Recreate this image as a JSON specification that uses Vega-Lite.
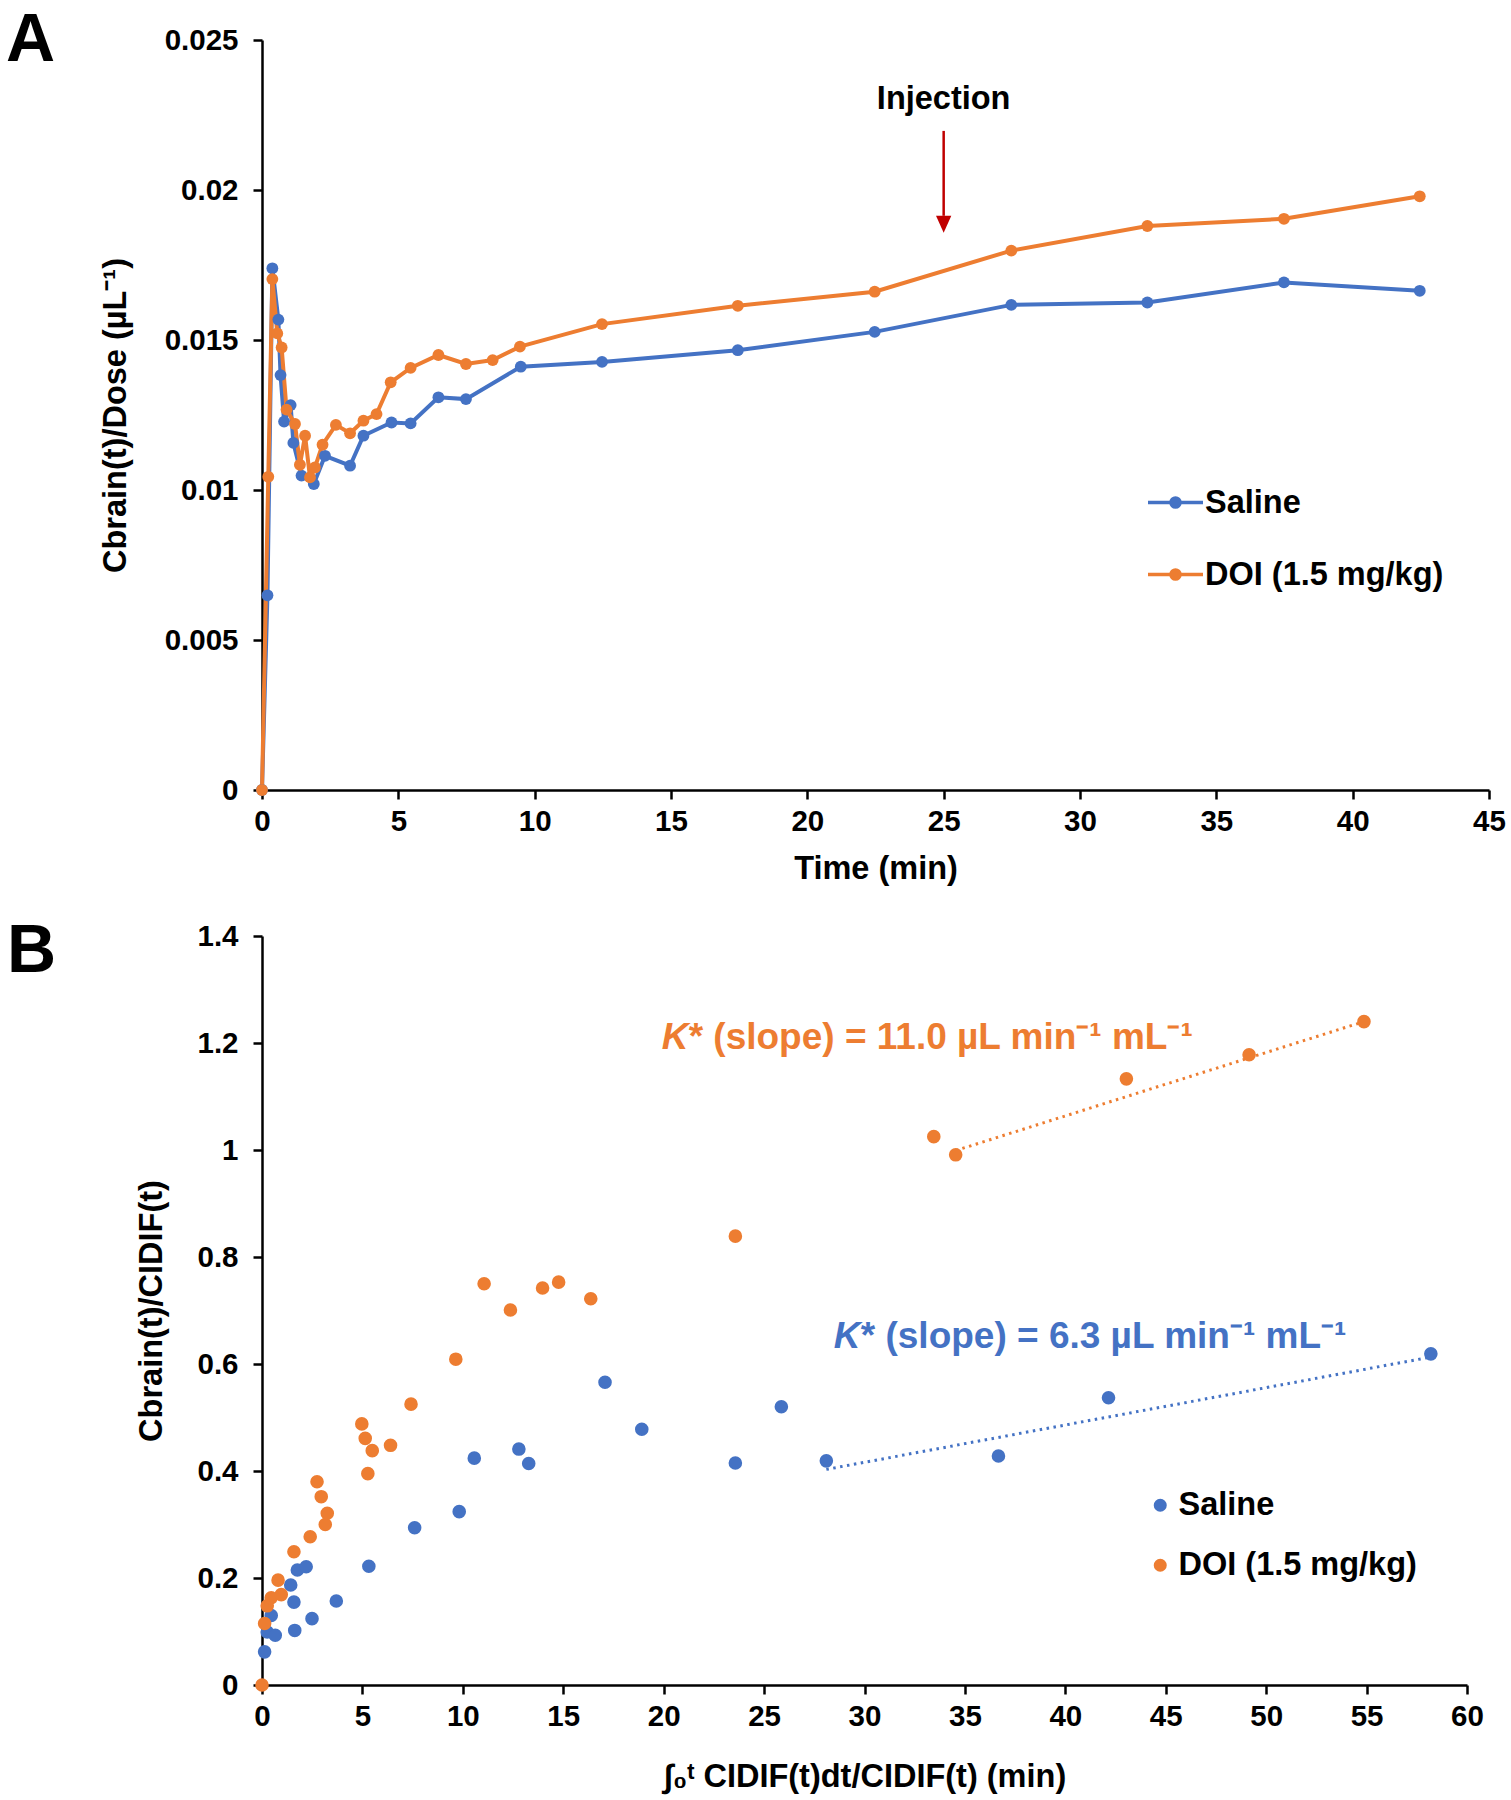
{
  "$schema": "https://vega.github.io/schema/vega-lite/v6.json",
  "padding": {"left": 5, "top": 6, "right": 5, "bottom": 5},
  "background": "white",
  "config": {
    "font": "Liberation Sans",
    "view": {"stroke": null},
    "axis": {
      "grid": false,
      "domainColor": "black",
      "domainWidth": 2.5,
      "tickColor": "black",
      "tickWidth": 2.5,
      "tickSize": 9,
      "labelFont": "Liberation Sans",
      "labelFontSize": 29.5,
      "labelFontWeight": "bold",
      "labelColor": "black",
      "labelFlush": false,
      "titleFont": "Liberation Sans",
      "titleFontSize": 32.5,
      "titleFontWeight": "bold",
      "titleColor": "black"
    },
    "axisX": {"labelPadding": 8},
    "axisY": {"labelPadding": 15},
    "legend": {
      "labelFont": "Liberation Sans",
      "labelFontSize": 32.5,
      "labelFontWeight": "bold",
      "labelColor": "black",
      "labelLimit": 0,
      "title": null,
      "padding": 0
    }
  },
  "datasets": {
    "curveA": [
      {"t": 0, "v": 0, "g": "Saline"},
      {"t": 0.2, "v": 0.00649, "g": "Saline"},
      {"t": 0.38, "v": 0.01739, "g": "Saline"},
      {"t": 0.6, "v": 0.01568, "g": "Saline"},
      {"t": 0.68, "v": 0.01383, "g": "Saline"},
      {"t": 0.81, "v": 0.01228, "g": "Saline"},
      {"t": 1.05, "v": 0.01283, "g": "Saline"},
      {"t": 1.15, "v": 0.01157, "g": "Saline"},
      {"t": 1.45, "v": 0.01048, "g": "Saline"},
      {"t": 1.9, "v": 0.0102, "g": "Saline"},
      {"t": 2.31, "v": 0.01114, "g": "Saline"},
      {"t": 3.23, "v": 0.01081, "g": "Saline"},
      {"t": 3.72, "v": 0.01181, "g": "Saline"},
      {"t": 4.75, "v": 0.01225, "g": "Saline"},
      {"t": 5.45, "v": 0.01222, "g": "Saline"},
      {"t": 6.47, "v": 0.01309, "g": "Saline"},
      {"t": 7.48, "v": 0.01303, "g": "Saline"},
      {"t": 9.49, "v": 0.01411, "g": "Saline"},
      {"t": 12.47, "v": 0.01427, "g": "Saline"},
      {"t": 17.45, "v": 0.01466, "g": "Saline"},
      {"t": 22.47, "v": 0.01527, "g": "Saline"},
      {"t": 27.48, "v": 0.01617, "g": "Saline"},
      {"t": 32.47, "v": 0.01625, "g": "Saline"},
      {"t": 37.48, "v": 0.01692, "g": "Saline"},
      {"t": 42.46, "v": 0.01664, "g": "Saline"},
      {"t": 0, "v": 0, "g": "DOI (1.5 mg/kg)"},
      {"t": 0.23, "v": 0.01044, "g": "DOI (1.5 mg/kg)"},
      {"t": 0.38, "v": 0.01703, "g": "DOI (1.5 mg/kg)"},
      {"t": 0.56, "v": 0.01522, "g": "DOI (1.5 mg/kg)"},
      {"t": 0.72, "v": 0.01475, "g": "DOI (1.5 mg/kg)"},
      {"t": 0.9, "v": 0.01268, "g": "DOI (1.5 mg/kg)"},
      {"t": 1.21, "v": 0.0122, "g": "DOI (1.5 mg/kg)"},
      {"t": 1.39, "v": 0.01084, "g": "DOI (1.5 mg/kg)"},
      {"t": 1.58, "v": 0.01181, "g": "DOI (1.5 mg/kg)"},
      {"t": 1.76, "v": 0.01042, "g": "DOI (1.5 mg/kg)"},
      {"t": 1.94, "v": 0.01075, "g": "DOI (1.5 mg/kg)"},
      {"t": 2.22, "v": 0.01151, "g": "DOI (1.5 mg/kg)"},
      {"t": 2.71, "v": 0.01217, "g": "DOI (1.5 mg/kg)"},
      {"t": 3.23, "v": 0.01189, "g": "DOI (1.5 mg/kg)"},
      {"t": 3.72, "v": 0.01231, "g": "DOI (1.5 mg/kg)"},
      {"t": 4.2, "v": 0.01253, "g": "DOI (1.5 mg/kg)"},
      {"t": 4.72, "v": 0.01359, "g": "DOI (1.5 mg/kg)"},
      {"t": 5.45, "v": 0.01407, "g": "DOI (1.5 mg/kg)"},
      {"t": 6.47, "v": 0.0145, "g": "DOI (1.5 mg/kg)"},
      {"t": 7.48, "v": 0.0142, "g": "DOI (1.5 mg/kg)"},
      {"t": 8.46, "v": 0.01433, "g": "DOI (1.5 mg/kg)"},
      {"t": 9.46, "v": 0.01478, "g": "DOI (1.5 mg/kg)"},
      {"t": 12.47, "v": 0.01553, "g": "DOI (1.5 mg/kg)"},
      {"t": 17.45, "v": 0.01614, "g": "DOI (1.5 mg/kg)"},
      {"t": 22.47, "v": 0.01661, "g": "DOI (1.5 mg/kg)"},
      {"t": 27.48, "v": 0.01798, "g": "DOI (1.5 mg/kg)"},
      {"t": 32.47, "v": 0.0188, "g": "DOI (1.5 mg/kg)"},
      {"t": 37.48, "v": 0.01904, "g": "DOI (1.5 mg/kg)"},
      {"t": 42.46, "v": 0.01979, "g": "DOI (1.5 mg/kg)"}
    ],
    "scatterB": [
      {"x": 0.13, "y": 0.062, "g": "Saline"},
      {"x": 0.26, "y": 0.099, "g": "Saline"},
      {"x": 0.66, "y": 0.093, "g": "Saline"},
      {"x": 0.46, "y": 0.13, "g": "Saline"},
      {"x": 1.63, "y": 0.102, "g": "Saline"},
      {"x": 1.59, "y": 0.155, "g": "Saline"},
      {"x": 1.43, "y": 0.187, "g": "Saline"},
      {"x": 1.76, "y": 0.215, "g": "Saline"},
      {"x": 2.2, "y": 0.221, "g": "Saline"},
      {"x": 2.49, "y": 0.124, "g": "Saline"},
      {"x": 3.7, "y": 0.157, "g": "Saline"},
      {"x": 5.32, "y": 0.222, "g": "Saline"},
      {"x": 7.6, "y": 0.294, "g": "Saline"},
      {"x": 9.82, "y": 0.324, "g": "Saline"},
      {"x": 10.57, "y": 0.424, "g": "Saline"},
      {"x": 12.79, "y": 0.441, "g": "Saline"},
      {"x": 13.28, "y": 0.414, "g": "Saline"},
      {"x": 17.08, "y": 0.566, "g": "Saline"},
      {"x": 18.91, "y": 0.478, "g": "Saline"},
      {"x": 23.57, "y": 0.415, "g": "Saline"},
      {"x": 25.86, "y": 0.52, "g": "Saline"},
      {"x": 28.1, "y": 0.419, "g": "Saline"},
      {"x": 36.67, "y": 0.428, "g": "Saline"},
      {"x": 42.15, "y": 0.537, "g": "Saline"},
      {"x": 58.2, "y": 0.619, "g": "Saline"},
      {"x": 0, "y": 0, "g": "DOI (1.5 mg/kg)"},
      {"x": 0.13, "y": 0.115, "g": "DOI (1.5 mg/kg)"},
      {"x": 0.26, "y": 0.148, "g": "DOI (1.5 mg/kg)"},
      {"x": 0.46, "y": 0.163, "g": "DOI (1.5 mg/kg)"},
      {"x": 0.96, "y": 0.169, "g": "DOI (1.5 mg/kg)"},
      {"x": 0.8, "y": 0.196, "g": "DOI (1.5 mg/kg)"},
      {"x": 1.59, "y": 0.249, "g": "DOI (1.5 mg/kg)"},
      {"x": 2.4, "y": 0.277, "g": "DOI (1.5 mg/kg)"},
      {"x": 3.15, "y": 0.3, "g": "DOI (1.5 mg/kg)"},
      {"x": 3.25, "y": 0.321, "g": "DOI (1.5 mg/kg)"},
      {"x": 2.95, "y": 0.352, "g": "DOI (1.5 mg/kg)"},
      {"x": 2.74, "y": 0.38, "g": "DOI (1.5 mg/kg)"},
      {"x": 5.27, "y": 0.395, "g": "DOI (1.5 mg/kg)"},
      {"x": 5.49, "y": 0.438, "g": "DOI (1.5 mg/kg)"},
      {"x": 5.14, "y": 0.461, "g": "DOI (1.5 mg/kg)"},
      {"x": 4.97, "y": 0.488, "g": "DOI (1.5 mg/kg)"},
      {"x": 6.4, "y": 0.448, "g": "DOI (1.5 mg/kg)"},
      {"x": 7.42, "y": 0.525, "g": "DOI (1.5 mg/kg)"},
      {"x": 9.65, "y": 0.609, "g": "DOI (1.5 mg/kg)"},
      {"x": 11.06, "y": 0.75, "g": "DOI (1.5 mg/kg)"},
      {"x": 12.37, "y": 0.701, "g": "DOI (1.5 mg/kg)"},
      {"x": 13.97, "y": 0.742, "g": "DOI (1.5 mg/kg)"},
      {"x": 14.77, "y": 0.753, "g": "DOI (1.5 mg/kg)"},
      {"x": 16.37, "y": 0.722, "g": "DOI (1.5 mg/kg)"},
      {"x": 23.57, "y": 0.839, "g": "DOI (1.5 mg/kg)"},
      {"x": 33.45, "y": 1.025, "g": "DOI (1.5 mg/kg)"},
      {"x": 34.54, "y": 0.991, "g": "DOI (1.5 mg/kg)"},
      {"x": 43.04, "y": 1.133, "g": "DOI (1.5 mg/kg)"},
      {"x": 49.15, "y": 1.178, "g": "DOI (1.5 mg/kg)"},
      {"x": 54.87, "y": 1.24, "g": "DOI (1.5 mg/kg)"}
    ],
    "fitBlue": [{"x": 28.1, "y": 0.403}, {"x": 58.2, "y": 0.613}],
    "fitOrange": [{"x": 34.54, "y": 0.999}, {"x": 54.87, "y": 1.24}]
  },
  "vconcat": [
    {
      "width": 1227,
      "height": 750,
      "encoding": {
        "x": {"field": "t", "type": "quantitative", "scale": {"domain": [0, 45], "nice": false, "zero": false},
              "axis": {"title": "Time (min)", "values": [0, 5, 10, 15, 20, 25, 30, 35, 40, 45], "format": "~g", "titlePadding": 17}},
        "y": {"field": "v", "type": "quantitative", "scale": {"domain": [0, 0.025], "nice": false},
              "axis": {"title": "Cbrain(t)/Dose (µL⁻¹)", "values": [0, 0.005, 0.01, 0.015, 0.02, 0.025], "format": "~g", "titlePadding": 32}}
      },
      "layer": [
        {
          "data": {"name": "curveA"},
          "mark": {"type": "line", "strokeWidth": 4},
          "encoding": {
            "color": {"field": "g", "type": "nominal",
                      "scale": {"domain": ["Saline", "DOI (1.5 mg/kg)"], "range": ["#4472C4", "#ED7D31"]},
                      "legend": {"orient": "none", "legendX": 884, "legendY": 433, "direction": "vertical",
                                 "symbolType": "M-1,0L1,0M0.165,0A0.165,0.165,0,1,1,-0.165,0A0.165,0.165,0,1,1,0.165,0M0.11,0A0.11,0.11,0,1,1,-0.11,0A0.11,0.11,0,1,1,0.11,0M0.055,0A0.055,0.055,0,1,1,-0.055,0A0.055,0.055,0,1,1,0.055,0",
                                 "symbolSize": 3025, "symbolStrokeWidth": 3.5, "labelOffset": 0, "rowPadding": 26,
                                 "encode": {"symbols": {"update": {"size": {"value": 3025}, "strokeWidth": {"value": 3.5}}}}}}
          }
        },
        {
          "data": {"name": "curveA"},
          "mark": {"type": "point", "filled": true, "size": 140, "opacity": 1},
          "encoding": {
            "color": {"field": "g", "type": "nominal"}
          }
        },
        {
          "data": {"values": [{"t": 25, "v": 0.02271, "label": "Injection"}]},
          "mark": {"type": "text", "fontSize": 32.5, "fontWeight": "bold", "align": "center", "baseline": "alphabetic", "color": "black"},
          "encoding": {"text": {"field": "label"}}
        },
        {
          "data": {"values": [{"t": 25, "v": 0.02197, "v2": 0.01914}]},
          "mark": {"type": "rule", "color": "#C00000", "strokeWidth": 2.5},
          "encoding": {"y2": {"field": "v2"}}
        },
        {
          "data": {"values": [{"t": 25, "v": 0.01886}]},
          "mark": {"type": "point", "shape": "M-0.45,-0.5L0.45,-0.5L0,0.5Z", "size": 1156, "filled": true, "color": "#C00000", "opacity": 1},
          "encoding": {}
        },
        {
          "data": {"values": [{"t": -9.39, "v": 0.02431, "label": "A"}]},
          "mark": {"type": "text", "fontSize": 68, "fontWeight": "bold", "align": "left", "baseline": "alphabetic", "color": "black"},
          "encoding": {"text": {"field": "label"}}
        }
      ]
    },
    {
      "width": 1205,
      "height": 749,
      "encoding": {
        "x": {"field": "x", "type": "quantitative", "scale": {"domain": [0, 60], "nice": false, "zero": false},
              "axis": {"title": "∫₀ᵗ CIDIF(t)dt/CIDIF(t) (min)", "values": [0, 5, 10, 15, 20, 25, 30, 35, 40, 45, 50, 55, 60], "format": "~g", "titlePadding": 30}},
        "y": {"field": "y", "type": "quantitative", "scale": {"domain": [0, 1.4], "nice": false},
              "axis": {"title": "Cbrain(t)/CIDIF(t)", "values": [0, 0.2, 0.4, 0.6, 0.8, 1, 1.2, 1.4], "format": "~g", "titlePadding": 28}}
      },
      "layer": [
        {
          "data": {"name": "fitBlue"},
          "mark": {"type": "line", "color": "#4472C4", "strokeWidth": 3, "strokeDash": [2.5, 4.5]},
          "encoding": {}
        },
        {
          "data": {"name": "fitOrange"},
          "mark": {"type": "line", "color": "#ED7D31", "strokeWidth": 3, "strokeDash": [2.5, 4.5]},
          "encoding": {}
        },
        {
          "data": {"name": "scatterB"},
          "mark": {"type": "point", "filled": true, "size": 185, "opacity": 1},
          "encoding": {
            "color": {"field": "g", "type": "nominal",
                      "scale": {"domain": ["Saline", "DOI (1.5 mg/kg)"], "range": ["#4472C4", "#ED7D31"]},
                      "legend": {"orient": "none", "legendX": 882, "legendY": 553, "direction": "vertical",
                                 "symbolType": "circle", "symbolSize": 170, "labelOffset": 2, "rowPadding": 27}}
          }
        },
        {
          "data": {"values": [{"x": 19.9, "y": 1.188, "label": "K"}]},
          "mark": {"type": "text", "fontSize": 37, "fontWeight": "bold", "fontStyle": "italic", "align": "left", "baseline": "alphabetic", "color": "#ED7D31"},
          "encoding": {"text": {"field": "label"}}
        },
        {
          "data": {"values": [{"x": 19.9, "y": 1.188, "label": "* (slope) = 11.0 µL min⁻¹ mL⁻¹"}]},
          "mark": {"type": "text", "fontSize": 37, "fontWeight": "bold", "align": "left", "baseline": "alphabetic", "dx": 27, "color": "#ED7D31"},
          "encoding": {"text": {"field": "label"}}
        },
        {
          "data": {"values": [{"x": 28.47, "y": 0.63, "label": "K"}]},
          "mark": {"type": "text", "fontSize": 37, "fontWeight": "bold", "fontStyle": "italic", "align": "left", "baseline": "alphabetic", "color": "#4472C4"},
          "encoding": {"text": {"field": "label"}}
        },
        {
          "data": {"values": [{"x": 28.47, "y": 0.63, "label": "* (slope) = 6.3 µL min⁻¹ mL⁻¹"}]},
          "mark": {"type": "text", "fontSize": 37, "fontWeight": "bold", "align": "left", "baseline": "alphabetic", "dx": 27, "color": "#4472C4"},
          "encoding": {"text": {"field": "label"}}
        },
        {
          "data": {"values": [{"x": -12.7, "y": 1.332, "label": "B"}]},
          "mark": {"type": "text", "fontSize": 68, "fontWeight": "bold", "align": "left", "baseline": "alphabetic", "color": "black"},
          "encoding": {"text": {"field": "label"}}
        }
      ]
    }
  ],
  "bounds": "flush",
  "spacing": 146,
  "resolve": {"scale": {"color": "independent", "x": "independent", "y": "independent"}, "legend": {"color": "independent"}}
}
